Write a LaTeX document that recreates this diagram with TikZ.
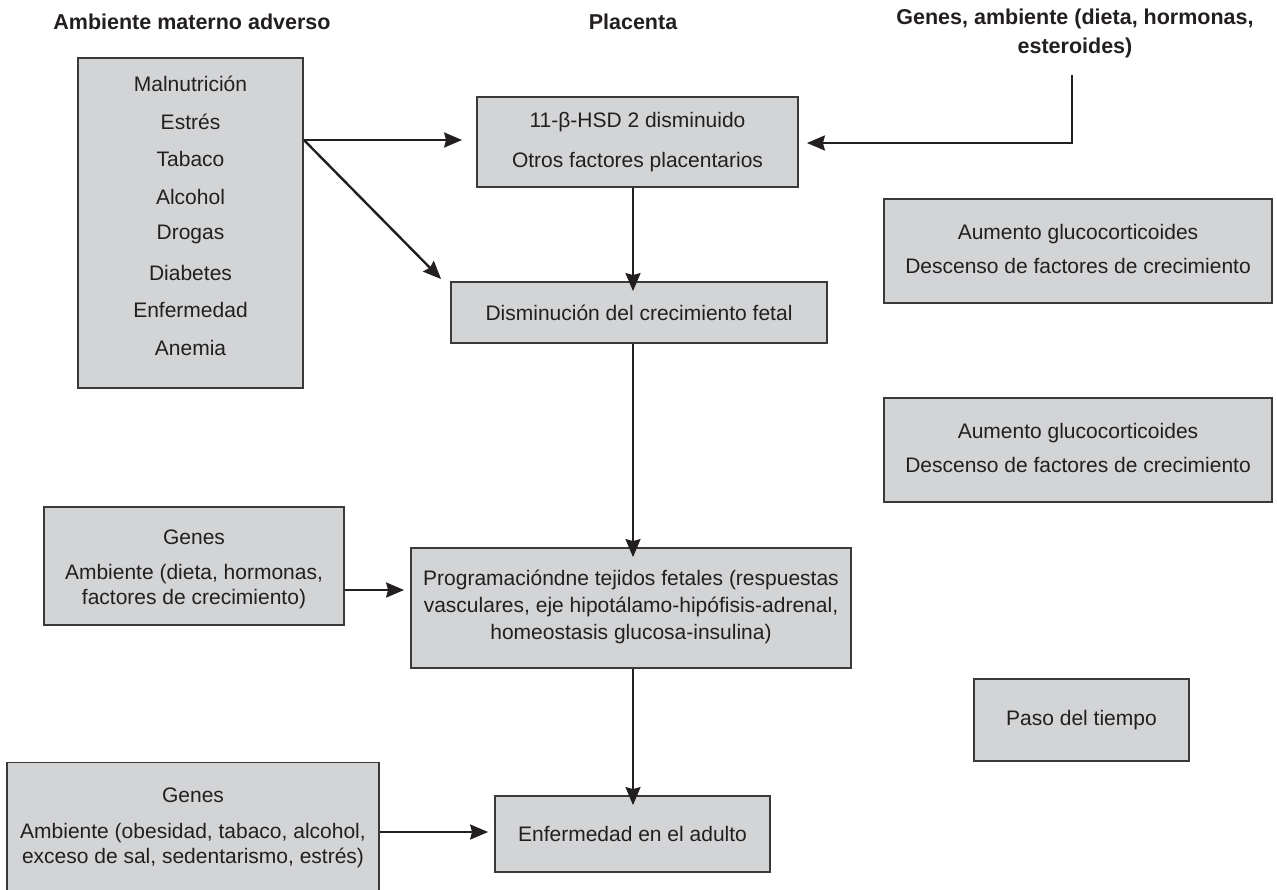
\documentclass[tikz,border=0pt]{standalone}
\usepackage{fontspec}
\setmainfont{Liberation Sans}
\usetikzlibrary{arrows.meta}
\definecolor{boxfill}{HTML}{D3D4D6}
\definecolor{boxline}{HTML}{3A3A3A}
\definecolor{txt}{HTML}{231F20}
\tikzset{
  box/.style={draw=boxline, line width=1.8pt, fill=boxfill, inner sep=0pt, text=txt},
  lbl/.style={font=\fontsize{21}{25}\selectfont, text=txt, inner sep=0pt, align=center},
  ttl/.style={font=\fontsize{21.5}{29}\selectfont\bfseries, text=txt, inner sep=0pt, align=center},
  arr/.style={draw=txt, line width=2.4pt, -{Stealth[length=18pt,width=15pt,inset=2pt]}},
}
\begin{document}
\begin{tikzpicture}[x=1pt,y=-1pt]
\useasboundingbox (0,0) rectangle (1277,889);
% titles
\node[ttl] (t1) at (192,22) {Ambiente materno adverso};
\node[ttl] (t2) at (633,22) {Placenta};
\node[ttl, anchor=north] (t3) at (1075,9) {Genes, ambiente (dieta, hormonas,\\esteroides)};
% boxes
\node[box, minimum width=225pt, minimum height=330pt] (A) at (190.5,223) {};
\foreach \t [count=\i from 0] in {Malnutrición,Estrés,Tabaco,Alcohol,Drogas,Diabetes,Enfermedad,Anemia}
  \node[lbl] (a\i) at (190.5,{84+\i*37.7}) {\t};
\node[box, minimum width=321pt, minimum height=90pt] (B) at (637.5,142) {};
\node[lbl] (b1) at (637.5,122) {11-β-HSD 2 disminuido};
\node[lbl] (b2) at (637.5,162) {Otros factores placentarios};
\node[box, minimum width=376pt, minimum height=61pt] (C) at (639,312.5) {};
\node[lbl] (c1) at (639,312.5) {Disminución del crecimiento fetal};
\node[box, minimum width=388pt, minimum height=104pt] (D) at (1078,251) {};
\node[lbl] (d1) at (1078,234) {Aumento glucocorticoides};
\node[lbl] (d2) at (1078,266) {Descenso de factores de crecimiento};
\node[box, minimum width=388pt, minimum height=104pt] (E) at (1078,450) {};
\node[lbl] (e1) at (1078,433) {Aumento glucocorticoides};
\node[lbl] (e2) at (1078,465) {Descenso de factores de crecimiento};
\node[box, minimum width=300pt, minimum height=118pt] (F) at (194,566) {};
\node[lbl] (f1) at (194,537) {Genes};
\node[lbl] (f2) at (194,587) {Ambiente (dieta, hormonas,\\factores de crecimiento)};
\node[box, minimum width=440pt, minimum height=120pt] (G) at (631,608) {};
\node[lbl, font=\fontsize{21}{27}\selectfont] (g1) at (631,607) {Programacióndne tejidos fetales (respuestas\\vasculares, eje hipotálamo-hipófisis-adrenal,\\homeostasis glucosa-insulina)};
\node[box, minimum width=215pt, minimum height=82pt] (H) at (1081.5,720) {};
\node[lbl] (h1) at (1081.5,720) {Paso del tiempo};
\node[box, minimum width=372pt, minimum height=135pt] (I) at (193,830) {};
\node[lbl] (i1) at (193,795) {Genes};
\node[lbl] (i2) at (193,846) {Ambiente (obesidad, tabaco, alcohol,\\exceso de sal, sedentarismo, estrés)};
\node[box, minimum width=275pt, minimum height=76pt] (J) at (632.5,834) {};
\node[lbl] (j1) at (632.5,834) {Enfermedad en el adulto};
% connectors
\coordinate (s) at (A.east |- 0,140);
\draw[arr] (s) -- ([xshift=-14pt]B.west |- s);
\draw[arr] (s) -- ([xshift=-9pt,yshift=2pt]C.north west);
\coordinate (gk) at (1072,75);
\draw[arr] (gk) |- ([xshift=8pt]B.east |- 0,143);
\draw[arr] (B.south -| 633,0) -- ([yshift=-10pt]C.north -| 633,0);
\draw[arr] (C.south -| 633,0) -- ([yshift=-10pt]G.north -| 633,0);
\draw[arr] (F.east |- 0,590) -- ([xshift=-6pt]G.west |- 0,590);
\draw[arr] (G.south -| 633,0) -- ([yshift=-10pt]J.north -| 633,0);
\draw[arr] (I.east |- 0,832) -- ([xshift=-6pt]J.west |- 0,832);
\end{tikzpicture}
\end{document}
